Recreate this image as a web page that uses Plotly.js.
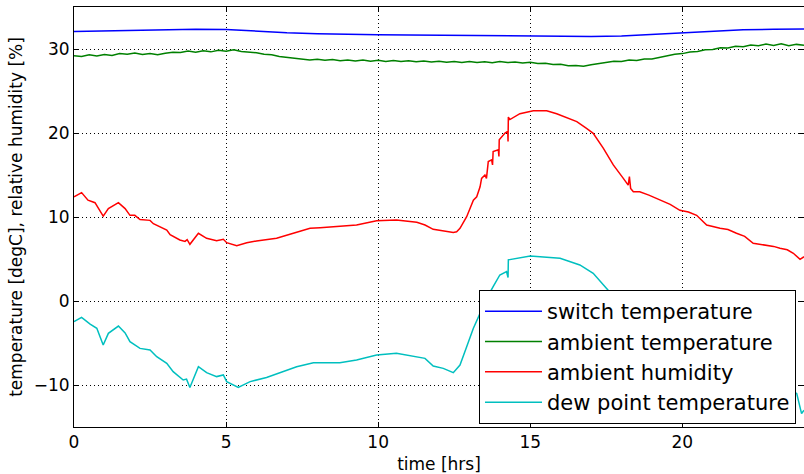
<!DOCTYPE html>
<html>
<head>
<meta charset="utf-8">
<script src="https://cdn.plot.ly/plotly-3.0.1.min.js"></script>
<style>html,body{margin:0;padding:0;background:#fff;}#chart{width:804px;height:474px;}</style>
</head>
<body>
<div id="chart"></div>
<script>
// ---- data ----
const seriesNames = ["switch temperature", "ambient temperature", "ambient humidity", "dew point temperature"];

const switchHours = [0,1,2,3,4,5,6,7,8,9,10,11,12,13,14,15,16,17,18,19,20,21,22,23,24];
const switchTemp  = [32.08,32.15,32.18,32.32,32.35,32.33,32.12,31.93,31.82,31.73,31.70,31.68,31.65,31.62,31.58,31.56,31.51,31.48,31.55,31.72,31.92,32.12,32.28,32.35,32.38];

const ambientHours = [0,0.25,0.5,0.75,1,1.25,1.5,1.75,2,2.25,2.5,2.75,3,3.25,3.5,3.75,4,4.25,4.5,4.75,5,5.25,5.5,5.75,6,6.25,6.5,6.75,7,7.25,7.5,7.75,8,8.25,8.5,8.75,9,9.25,9.5,9.75,10,10.25,10.5,10.75,11,11.25,11.5,11.75,12,12.25,12.5,12.75,13,13.25,13.5,13.75,14,14.25,14.5,14.75,15,15.25,15.5,15.75,16,16.25,16.5,16.75,17,17.25,17.5,17.75,18,18.25,18.5,18.75,19,19.25,19.5,19.75,20,20.25,20.5,20.75,21,21.25,21.5,21.75,22,22.25,22.5,22.75,23,23.25,23.5,23.75,24];
const ambientTemp  = [29.20,29.10,29.30,29.18,29.35,29.22,29.45,29.38,29.52,29.36,29.47,29.33,29.50,29.62,29.58,29.75,29.62,29.78,29.66,29.85,29.72,29.92,29.70,29.62,29.55,29.38,29.32,29.12,29.02,28.88,28.82,28.70,28.78,28.66,28.75,28.60,28.70,28.58,28.68,28.55,28.65,28.52,28.62,28.50,28.60,28.48,28.58,28.45,28.55,28.42,28.52,28.40,28.50,28.40,28.48,28.36,28.50,28.38,28.45,28.32,28.42,28.28,28.30,28.15,28.18,28.02,28.05,27.95,28.12,28.28,28.35,28.55,28.50,28.70,28.62,28.82,28.80,29.02,29.15,29.38,29.45,29.65,29.70,29.92,29.95,30.15,30.12,30.32,30.28,30.48,30.40,30.58,30.42,30.62,30.40,30.55,30.45];

const humidityHours = [0,0.25,0.46,0.69,0.96,1.13,1.46,1.68,1.84,2.0,2.17,2.5,2.61,3.05,3.16,3.48,3.65,3.72,3.81,4.09,4.36,4.69,4.91,5.02,5.35,5.68,6.0,6.66,7.21,7.76,8.09,8.7,9.29,9.95,10.6,11.27,11.54,11.81,12.14,12.47,12.58,12.69,12.91,13.13,13.24,13.35,13.40,13.51,13.56,13.62,13.73,13.76,13.78,13.95,13.97,13.98,14.17,14.26,14.27,14.28,14.33,14.66,15.1,15.54,15.87,16.2,16.53,16.85,17.07,17.4,17.73,18.06,18.22,18.26,18.30,18.39,18.6,18.9,19.26,19.6,19.92,20.2,20.47,20.8,21.24,21.5,21.78,22.05,22.33,22.77,23.0,23.21,23.45,23.65,23.87,24.0];
const humidity      = [12.4,12.9,12.0,11.7,10.1,11.0,11.7,11.0,10.2,10.2,9.7,9.6,9.2,8.45,7.9,7.26,7.1,7.3,6.75,8.06,7.46,7.18,7.34,6.94,6.59,6.94,7.14,7.46,8.06,8.65,8.73,8.9,9.05,9.56,9.64,9.37,9.05,8.53,8.33,8.17,8.25,8.65,10.04,12.0,12.4,13.6,14.6,15.0,14.6,16.6,16.8,16.2,17.8,18.0,17.2,19.2,20.0,20.2,19.0,21.9,21.6,22.3,22.65,22.65,22.3,21.8,21.35,20.56,19.96,18.2,16.2,14.6,13.8,14.8,13.4,13.0,13.0,12.6,12.0,11.5,10.8,10.6,10.2,9.05,8.65,8.5,8.06,7.7,6.87,6.67,6.5,6.27,6.1,5.68,4.96,5.27];

const dewHours = [0,0.25,0.53,0.75,0.96,1.13,1.46,1.68,1.84,2.17,2.5,2.72,3.05,3.26,3.59,3.7,3.81,4.09,4.36,4.69,4.91,5.02,5.4,5.79,6.33,6.77,7.32,7.87,8.74,9.29,9.95,10.6,11.27,11.54,11.81,12.14,12.47,12.69,12.91,13.13,13.35,13.55,13.78,14.0,14.22,14.27,14.28,14.6,15.0,15.54,15.98,16.63,17.07,17.51,18.0,18.4,19.3,20.0,20.8,21.8,22.3,23.2,23.65,23.76,23.92,24.0];
const dewPoint = [-2.46,-1.94,-2.74,-3.25,-5.24,-3.85,-2.98,-3.8,-4.84,-5.64,-5.83,-6.63,-7.42,-8.41,-9.4,-9.3,-10.3,-7.82,-8.53,-9.0,-8.8,-9.6,-10.3,-9.6,-9.1,-8.53,-7.82,-7.34,-7.34,-7.02,-6.43,-6.23,-6.63,-6.83,-7.74,-8.02,-8.53,-7.62,-5.44,-3.25,-1.47,0.2,1.7,3.1,3.5,2.8,4.9,5.1,5.36,5.2,5.08,4.29,3.3,1.5,-0.5,-1.8,-3.2,-4.5,-6.0,-7.5,-9.0,-10.0,-10.8,-11.0,-13.4,-13.0];

const xTicks = [0,5,10,15,20];
const yTicks = [-10,0,10,20,30];
const xLabel = "time [hrs]";
const yLabel = "temperature [degC], relative humidity [%]";
const colors = ["#0000ff", "#008000", "#ff0000", "#00bfbf"];

// ---- chart ----
const xs = [switchHours, ambientHours, humidityHours, dewHours];
const ys = [switchTemp, ambientTemp, humidity, dewPoint];
const traces = seriesNames.map((n, i) => ({
  type: "scatter", mode: "lines", name: n,
  x: xs[i], y: ys[i],
  line: {color: colors[i], width: 1.5}
}));

const font = {family: "DejaVu Sans, sans-serif", color: "#000"};
const axisCommon = {
  showline: true, linecolor: "#000", linewidth: 1, mirror: "ticks",
  ticks: "inside", ticklen: 5, tickcolor: "#000", tickwidth: 1,
  showgrid: true, gridcolor: "#000", gridwidth: 1, griddash: "1px,3px",
  zeroline: false, tickfont: Object.assign({size: 17}, font)
};

const layout = {
  width: 804, height: 474,
  margin: {l: 74, r: 0, t: 7, b: 47, pad: 0},
  paper_bgcolor: "#fff", plot_bgcolor: "#fff",
  font: font,
  showlegend: true,
  xaxis: Object.assign({}, axisCommon, {
    range: [0, 24], tickmode: "array", tickvals: xTicks, ticktext: xTicks.map(String),
    title: {text: xLabel, font: Object.assign({size: 17}, font), standoff: 6}
  }),
  yaxis: Object.assign({}, axisCommon, {
    range: [-15, 35], tickmode: "array", tickvals: yTicks,
    ticktext: yTicks.map(v => v < 0 ? "\u2212" + Math.abs(v) : String(v)),
    title: {text: yLabel, font: Object.assign({size: 17}, font), standoff: 6}
  }),
  legend: {
    x: 0.5548, y: 0.326, xanchor: "left", yanchor: "top",
    bgcolor: "#fff", bordercolor: "#000", borderwidth: 1,
    font: Object.assign({size: 21}, font),
    itemwidth: 57
  }
};

Plotly.newPlot("chart", traces, layout, {displayModeBar: false, staticPlot: true});
</script>
</body>
</html>
